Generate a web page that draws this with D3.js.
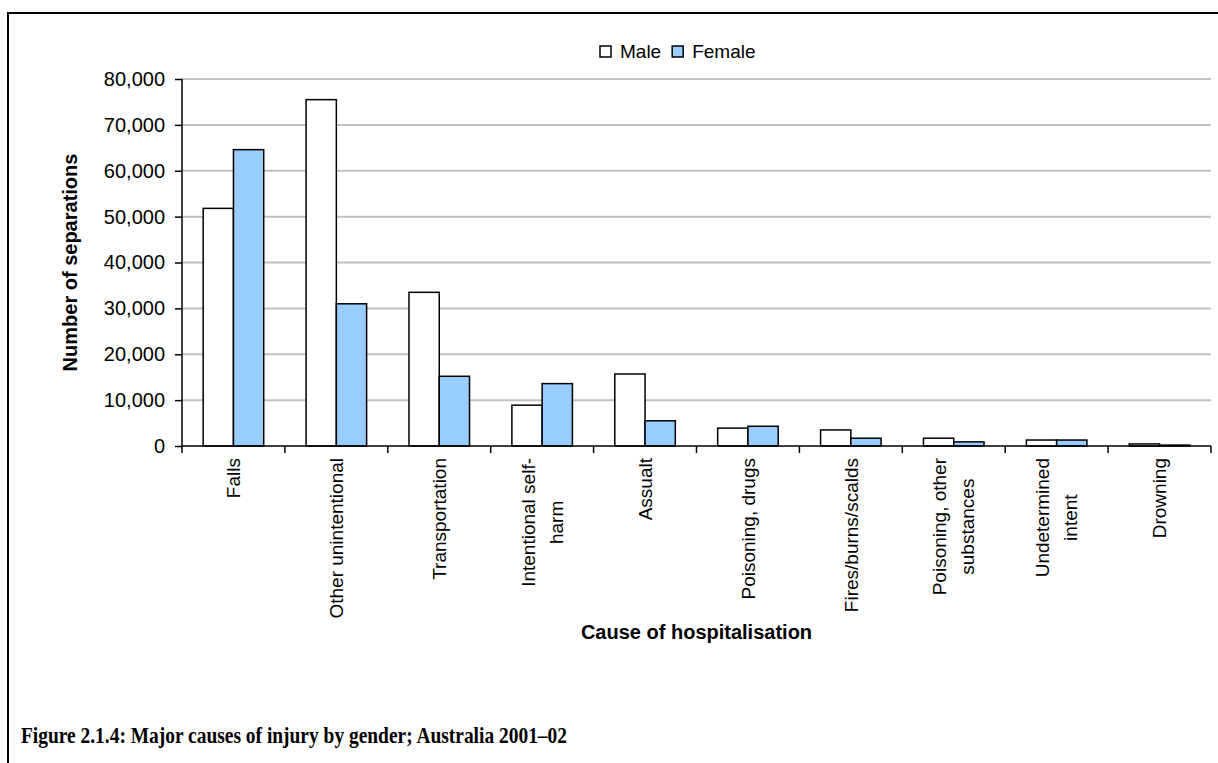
<!DOCTYPE html>
<html>
<head>
<meta charset="utf-8">
<script src="https://cdn.jsdelivr.net/npm/d3@7/dist/d3.min.js"></script>
<style>
  body { margin: 0; background: #fff; }
  text { font-family: "Liberation Sans", Arial, sans-serif; fill: #000; }
  .caption { font-family: "Liberation Serif", "DejaVu Serif", serif; font-weight: bold; }
</style>
</head>
<body>
<div class="chart"></div>
<script>
var categories = ["Falls", "Other unintentional", "Transportation", "Intentional self-harm", "Assualt",
  "Poisoning, drugs", "Fires/burns/scalds", "Poisoning, other substances", "Undetermined intent", "Drowning"];
var labelLines = [["Falls"], ["Other unintentional"], ["Transportation"], ["Intentional self-", "harm"], ["Assualt"],
  ["Poisoning, drugs"], ["Fires/burns/scalds"], ["Poisoning, other", "substances"], ["Undetermined", "intent"], ["Drowning"]];
var male = [51800, 75500, 33500, 8900, 15700, 3900, 3500, 1700, 1300, 450];
var female = [64600, 31000, 15200, 13600, 5500, 4300, 1700, 900, 1300, 200];
var seriesNames = ["Male", "Female"];
var seriesColors = ["#ffffff", "#99ccff"];
var yTicks = [0, 10000, 20000, 30000, 40000, 50000, 60000, 70000, 80000];

var svgWidth = 1218;
var svgHeight = 763;
var margin = { top: 79, right: 7, bottom: 317, left: 182 };
var width = svgWidth - margin.left - margin.right;
var height = svgHeight - margin.top - margin.bottom;

var svg = d3.select(".chart")
  .append("svg")
  .attr("width", svgWidth)
  .attr("height", svgHeight);

// outer frame, runs off the right and bottom edges
svg.append("rect")
  .attr("x", 8)
  .attr("y", 13)
  .attr("width", 1400)
  .attr("height", 900)
  .attr("fill", "none")
  .attr("stroke", "#000")
  .attr("stroke-width", 2);

var chart = svg.append("g")
  .attr("transform", "translate(" + margin.left + "," + margin.top + ")");

var xScale = d3.scaleBand()
  .domain(categories)
  .range([0, width]);

var xInner = d3.scaleBand()
  .domain(seriesNames)
  .range([0, xScale.bandwidth()])
  .paddingOuter(0.7)
  .paddingInner(0);

var yScale = d3.scaleLinear()
  .domain([0, 80000])
  .range([height, 0]);

// gridlines
chart.append("g")
  .selectAll("line")
  .data(yTicks.slice(1))
  .enter().append("line")
  .attr("x1", 0)
  .attr("x2", width)
  .attr("y1", function(d) { return yScale(d); })
  .attr("y2", function(d) { return yScale(d); })
  .attr("stroke", "#c0c0c0")
  .attr("stroke-width", 2);

var rows = categories.map(function(c, i) {
  return { cat: c, values: [male[i], female[i]] };
});

var groups = chart.selectAll(".grp")
  .data(rows)
  .enter().append("g")
  .attr("transform", function(d) { return "translate(" + xScale(d.cat) + ",0)"; });

groups.selectAll("rect")
  .data(function(d) { return d.values.map(function(v, j) { return { name: seriesNames[j], value: v, j: j }; }); })
  .enter().append("rect")
  .attr("x", function(d) { return xInner(d.name); })
  .attr("width", xInner.bandwidth())
  .attr("y", function(d) { return yScale(d.value); })
  .attr("height", function(d) { return height - yScale(d.value); })
  .attr("fill", function(d) { return seriesColors[d.j]; })
  .attr("stroke", "#000")
  .attr("stroke-width", 1.5);

// y axis
var leftAxis = d3.axisLeft(yScale)
  .tickValues(yTicks)
  .tickFormat(d3.format(","))
  .tickSize(7)
  .tickPadding(10);

var yAxisG = chart.append("g").call(leftAxis);
yAxisG.select(".domain").attr("stroke-width", 1.5).attr("d", "M0," + height + "V0");
yAxisG.selectAll(".tick line").attr("stroke-width", 1.5);
yAxisG.selectAll("text").style("font-size", "20px").style("font-family", "Liberation Sans, Arial, sans-serif");

// x axis line with ticks at band edges
var xAxisG = chart.append("g").attr("transform", "translate(0," + height + ")");
xAxisG.append("line")
  .attr("x1", 0).attr("x2", width)
  .attr("stroke", "#000").attr("stroke-width", 1.5);
xAxisG.selectAll(".xt")
  .data(categories.concat(["end"]))
  .enter().append("line")
  .attr("x1", function(d, i) { return i * xScale.step(); })
  .attr("x2", function(d, i) { return i * xScale.step(); })
  .attr("y1", 0).attr("y2", 7)
  .attr("stroke", "#000").attr("stroke-width", 1.5);

// rotated category labels
var lineGap = 28;
var labelTop = 12;
labelLines.forEach(function(lines, i) {
  var cx = xScale(categories[i]) + xScale.bandwidth() / 2;
  var texts = lines.map(function(t, k) {
    var lx = cx + (k - (lines.length - 1) / 2) * lineGap;
    return xAxisG.append("text")
      .attr("dy", "0.35em")
      .attr("text-anchor", "middle")
      .style("font-size", "19px")
      .attr("data-x", lx)
      .text(t);
  });
  var maxLen = d3.max(texts, function(t) { return t.node().getComputedTextLength(); });
  texts.forEach(function(t) {
    t.attr("transform", "translate(" + t.attr("data-x") + "," + (labelTop + maxLen / 2) + ") rotate(-90)");
  });
});

// axis titles
chart.append("text")
  .attr("transform", "rotate(-90)")
  .attr("x", -height / 2)
  .attr("y", -105)
  .attr("text-anchor", "middle")
  .style("font-size", "20px")
  .style("font-weight", "bold")
  .text("Number of separations");

chart.append("text")
  .attr("x", width / 2)
  .attr("y", height + 193)
  .attr("text-anchor", "middle")
  .style("font-size", "20px")
  .style("font-weight", "bold")
  .text("Cause of hospitalisation");

// legend
var legend = svg.append("g").attr("transform", "translate(600,46)");
var lx = 0;
seriesNames.forEach(function(name, j) {
  legend.append("rect")
    .attr("x", lx).attr("y", 0)
    .attr("width", 11).attr("height", 11)
    .attr("fill", seriesColors[j])
    .attr("stroke", "#000").attr("stroke-width", 1.5);
  var t = legend.append("text")
    .attr("x", lx + 20).attr("y", 12)
    .style("font-size", "19px")
    .text(name);
  lx += 20 + t.node().getComputedTextLength() + 11;
});

// caption, squeezed a little to match the narrow book face
svg.append("text")
  .attr("class", "caption")
  .attr("transform", "translate(21,743) scale(0.81,1)")
  .style("font-size", "24px")
  .text("Figure 2.1.4: Major causes of injury by gender; Australia 2001\u201302");
</script>
</body>
</html>
